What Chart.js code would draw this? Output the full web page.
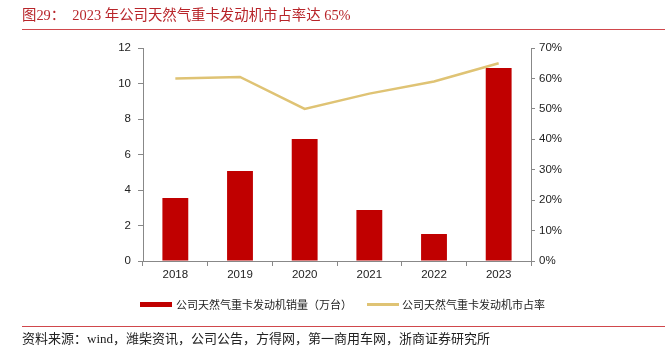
<!DOCTYPE html>
<html>
<head>
<meta charset="utf-8">
<script src="https://cdn.jsdelivr.net/npm/chart.js@4/dist/chart.umd.min.js"></script>
<style>
  body { margin: 0; background: #fff; }
  #wrap { position: relative; width: 665px; height: 350px; font-family: "Liberation Serif", "Noto Sans CJK SC", serif; }
  #chart { position: absolute; left: 0; top: 0; }
  .title { position: absolute; left: 22px; top: 4px; font-size: 14.4px; line-height: 22px; color: #b8252a; white-space: nowrap; }
  .rule { position: absolute; left: 22px; right: 0; height: 1px; background: #d0474c; }
  .source { position: absolute; left: 22px; top: 329px; font-size: 13px; line-height: 20px; color: #222; white-space: nowrap; }
  .legend { position: absolute; top: 294px; left: 140px; font-size: 11px; line-height: 16px; color: #222; white-space: nowrap; font-family: "Noto Sans CJK SC", sans-serif; }
  .legend span { display: inline-block; vertical-align: middle; }
  .sw-bar { width: 32px; height: 5px; background: #c00000; margin-right: 4px; }
  .sw-line { width: 32px; height: 3px; background: #dfc374; margin: 0 3px 0 15px; }
</style>
</head>
<body>
<div id="wrap">
  <canvas id="chart" width="665" height="350"></canvas>
  <div class="title">图29：&nbsp;&nbsp;2023 年公司天然气重卡发动机市占率达 65%</div>
  <div class="rule" style="top:29px"></div>
  <div class="legend"><span class="sw-bar"></span><span>公司天然气重卡发动机销量（万台）</span><span class="sw-line"></span><span>公司天然气重卡发动机市占率</span></div>
  <div class="rule" style="top:326px"></div>
  <div class="source">资料来源：wind，潍柴资讯，公司公告，方得网，第一商用车网，浙商证券研究所</div>
</div>
<script>
const years = ["2018", "2019", "2020", "2021", "2022", "2023"];
const sales = [3.55, 5.07, 6.87, 2.87, 1.52, 10.87];
const share = [60, 60.5, 50, 55, 59, 65];
const leftTicks = [0, 2, 4, 6, 8, 10, 12];

const axisColor = "#888";
const tickFont = { family: "Liberation Sans, Arial, sans-serif", size: 11.5 };

new Chart(document.getElementById("chart"), {
  data: {
    labels: years,
    datasets: [
      {
        type: "line",
        label: "公司天然气重卡发动机市占率",
        data: share,
        yAxisID: "y2",
        borderColor: "#dfc374",
        borderWidth: 2.5,
        pointRadius: 0,
        tension: 0
      },
      {
        type: "bar",
        label: "公司天然气重卡发动机销量（万台）",
        data: sales,
        yAxisID: "y",
        backgroundColor: "#c00000",
        barPercentage: 0.4,
        categoryPercentage: 1
      }
    ]
  },
  options: {
    responsive: false,
    animation: false,
    layout: { padding: { top: 48, left: 0, right: 0, bottom: 0 } },
    plugins: { legend: { display: false }, tooltip: { enabled: false } },
    scales: {
      x: {
        offset: true,
        grid: { offset: true, drawOnChartArea: false, drawTicks: true, tickLength: 5, color: axisColor },
        border: { color: axisColor },
        ticks: { color: "#222", font: tickFont, padding: 2 },
        afterFit: s => { s.height = 89; }
      },
      y: {
        position: "left",
        min: 0, max: 12,
        grid: { drawOnChartArea: false, tickLength: 5, color: axisColor },
        border: { color: axisColor },
        afterBuildTicks: s => { s.ticks = leftTicks.map(v => ({ value: v })); },
        ticks: { color: "#222", font: tickFont, padding: 7 },
        afterFit: s => { s.width = 143; }
      },
      y2: {
        position: "right",
        min: 0, max: 70,
        grid: { drawOnChartArea: false, tickLength: 4, color: axisColor },
        border: { color: axisColor },
        ticks: { stepSize: 10, color: "#222", font: tickFont, padding: 4, callback: v => v + "%" },
        afterFit: s => { s.width = 134; }
      }
    }
  }
});
</script>
</body>
</html>
